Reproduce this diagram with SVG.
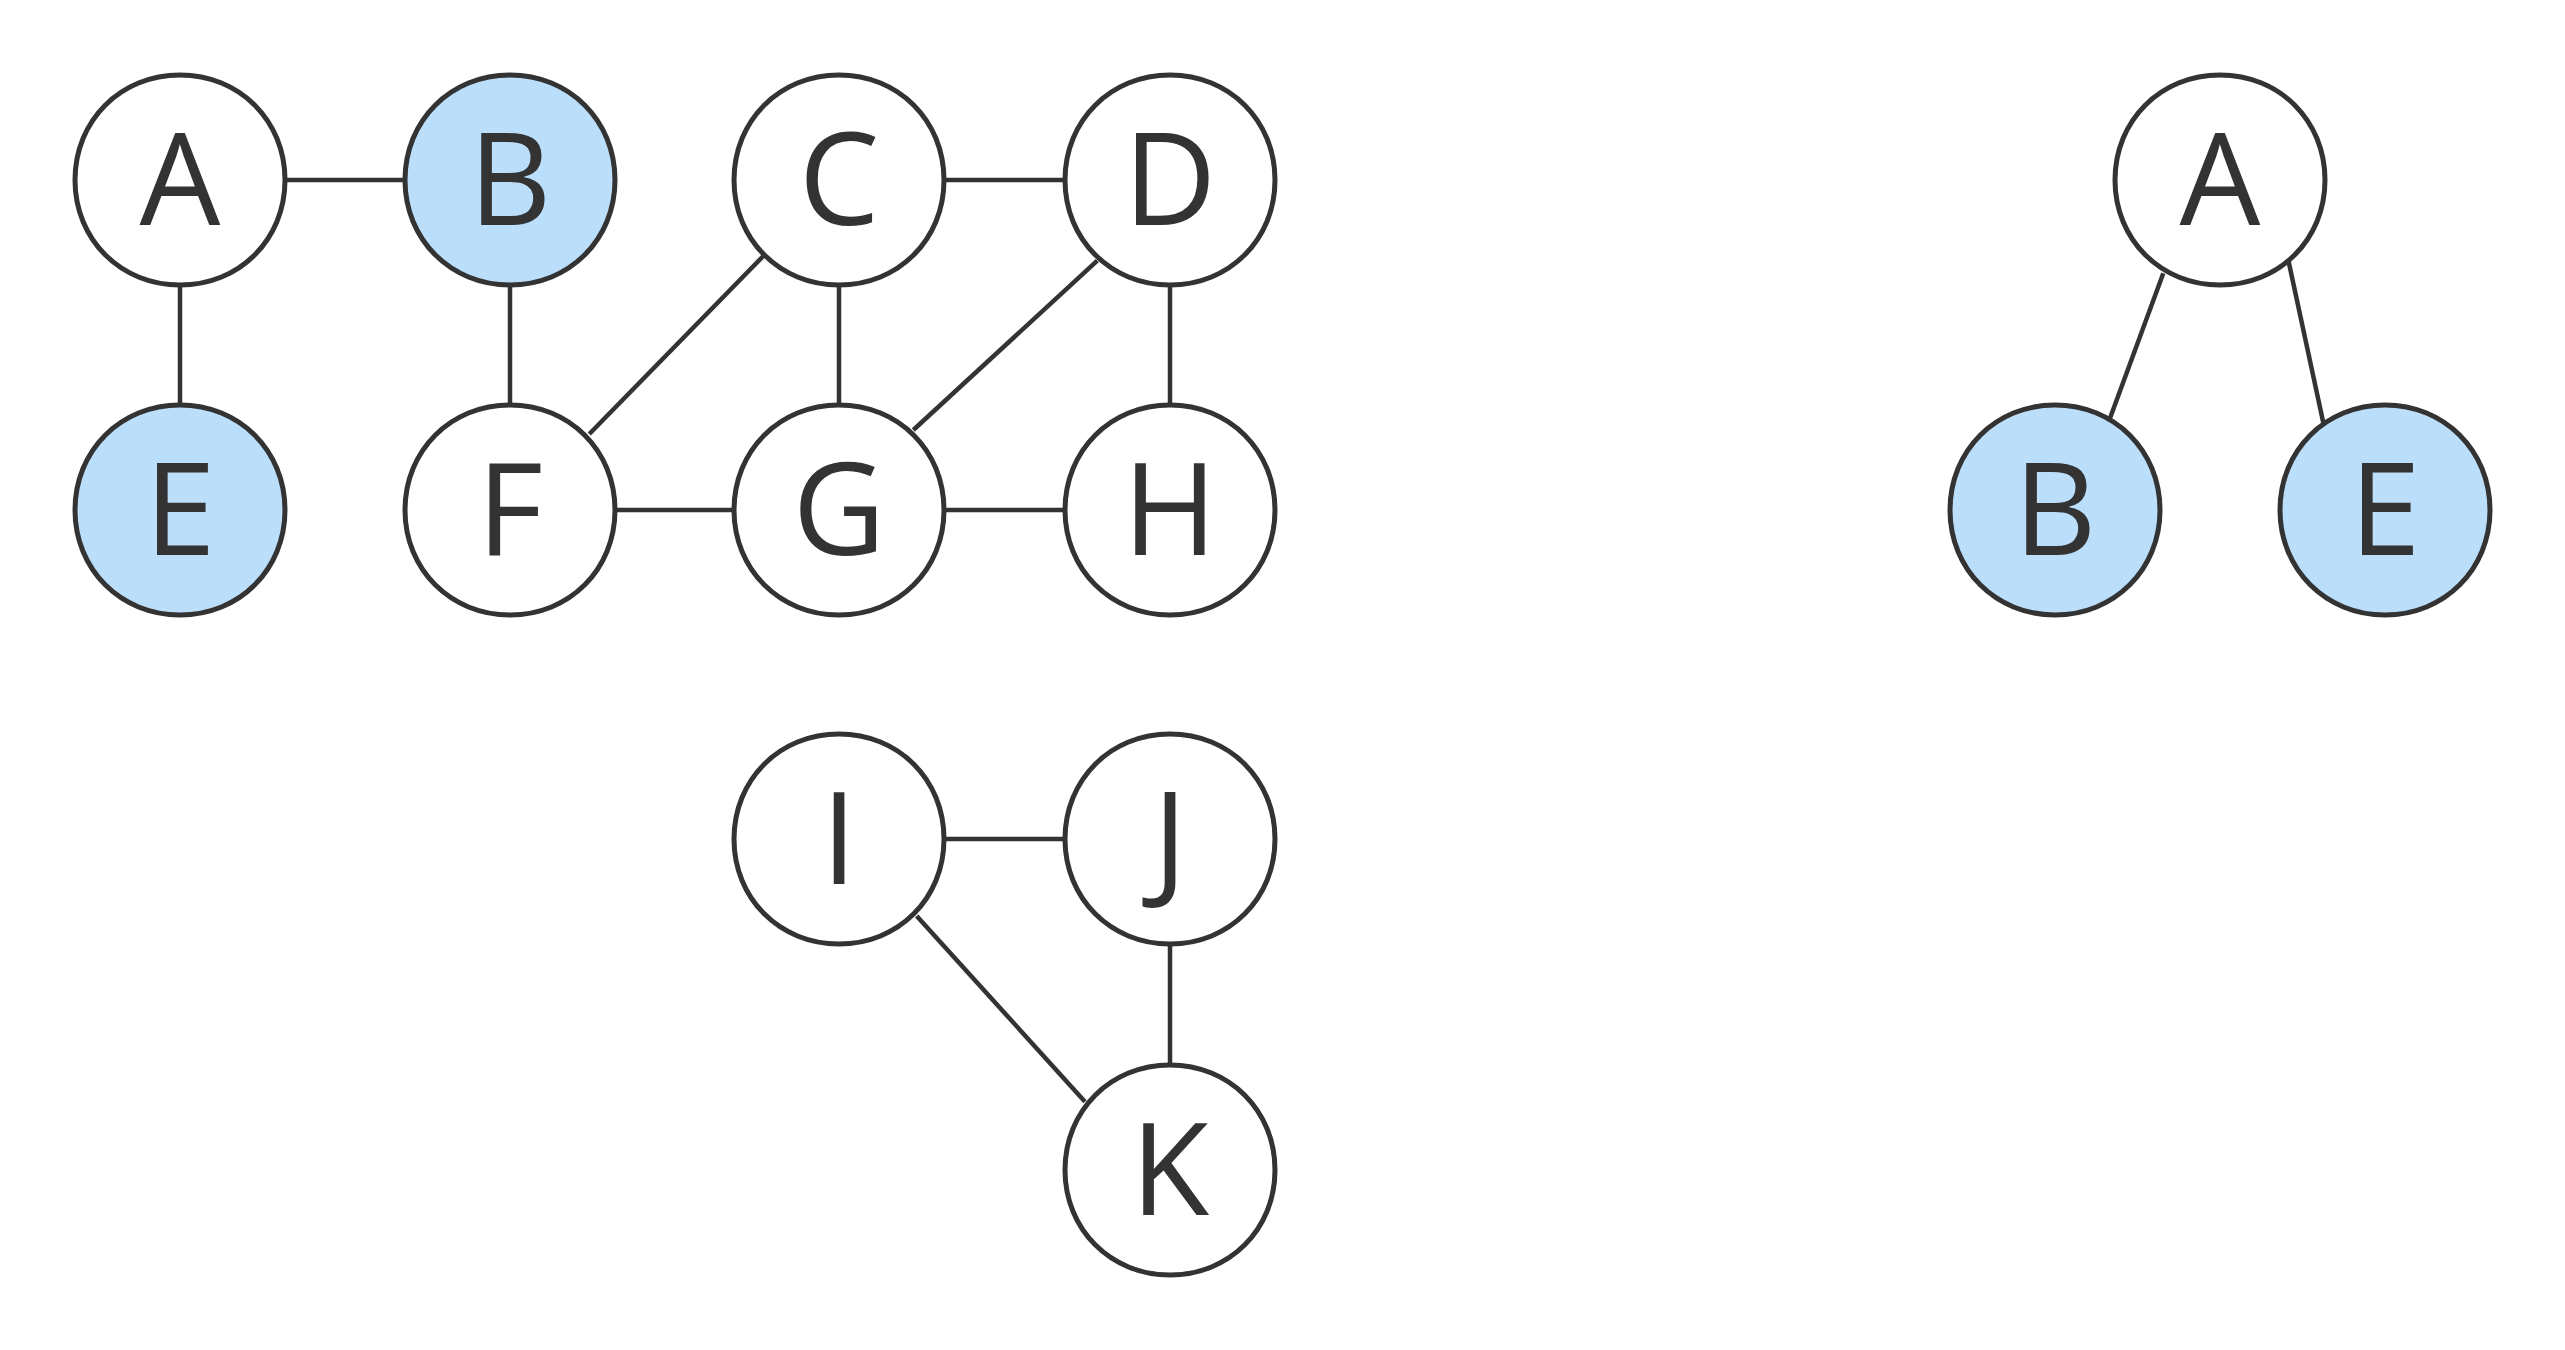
<svg xmlns="http://www.w3.org/2000/svg" width="2565" height="1350" viewBox="0 0 2565 1350">
<style>
.node use{stroke:#333333;stroke-width:5;}
.w{fill:#ffffff;}
.b{fill:#bbdefb;}
.node text{font-family:"Open Sans","Noto Sans","DejaVu Sans",sans-serif;font-size:128px;fill:#333333;text-anchor:middle;}
#connectors line{stroke:#333333;stroke-width:4.5;stroke-linecap:butt;}
</style>
<defs>
<path id="blob" d="M -105 0 C -105 -59.5 -59.5 -105 0 -105 C 59.5 -105 105 -59.5 105 0 C 105 59.5 59.5 105 0 105 C -59.5 105 -105 59.5 -105 0 Z"/>
</defs>
<rect width="2565" height="1350" fill="#ffffff"/>
<g id="connectors">
<line x1="285" y1="180" x2="405" y2="180"/>
<line x1="180" y1="285" x2="180" y2="405"/>
<line x1="510" y1="285" x2="510" y2="405"/>
<line x1="589.3" y1="434" x2="763.3" y2="256"/>
<line x1="944" y1="180" x2="1065" y2="180"/>
<line x1="839" y1="285" x2="839" y2="405"/>
<line x1="1097.3" y1="260.7" x2="913.3" y2="430"/>
<line x1="1170" y1="285" x2="1170" y2="405"/>
<line x1="615" y1="510" x2="734" y2="510"/>
<line x1="944" y1="510" x2="1065" y2="510"/>
<line x1="944" y1="839" x2="1065" y2="839"/>
<line x1="916.7" y1="916" x2="1085" y2="1101.7"/>
<line x1="1170" y1="944" x2="1170" y2="1065"/>
<line x1="2163.3" y1="273.3" x2="2110" y2="418.3"/>
<line x1="2288.3" y1="260" x2="2323.3" y2="422.7"/>
</g>
<g id="node-A" class="node"><use href="#blob" x="180" y="180" class="w"/><text x="180" y="225">A</text></g>
<g id="node-B" class="node"><use href="#blob" x="510" y="180" class="b"/><text x="510" y="225">B</text></g>
<g id="node-C" class="node"><use href="#blob" x="839" y="180" class="w"/><text x="839" y="225">C</text></g>
<g id="node-D" class="node"><use href="#blob" x="1170" y="180" class="w"/><text x="1170" y="225">D</text></g>
<g id="node-E" class="node"><use href="#blob" x="180" y="510" class="b"/><text x="180" y="555">E</text></g>
<g id="node-F" class="node"><use href="#blob" x="510" y="510" class="w"/><text x="510" y="555">F</text></g>
<g id="node-G" class="node"><use href="#blob" x="839" y="510" class="w"/><text x="839" y="555">G</text></g>
<g id="node-H" class="node"><use href="#blob" x="1170" y="510" class="w"/><text x="1170" y="555">H</text></g>
<g id="node-I" class="node"><use href="#blob" x="839" y="839" class="w"/><text x="839" y="884">I</text></g>
<g id="node-J" class="node"><use href="#blob" x="1170" y="839" class="w"/><text x="1170" y="884">J</text></g>
<g id="node-K" class="node"><use href="#blob" x="1170" y="1170" class="w"/><text x="1170" y="1215">K</text></g>
<g id="tree-A" class="node"><use href="#blob" x="2220" y="180" class="w"/><text x="2220" y="225">A</text></g>
<g id="tree-B" class="node"><use href="#blob" x="2055" y="510" class="b"/><text x="2055" y="555">B</text></g>
<g id="tree-E" class="node"><use href="#blob" x="2385" y="510" class="b"/><text x="2385" y="555">E</text></g>
</svg>
